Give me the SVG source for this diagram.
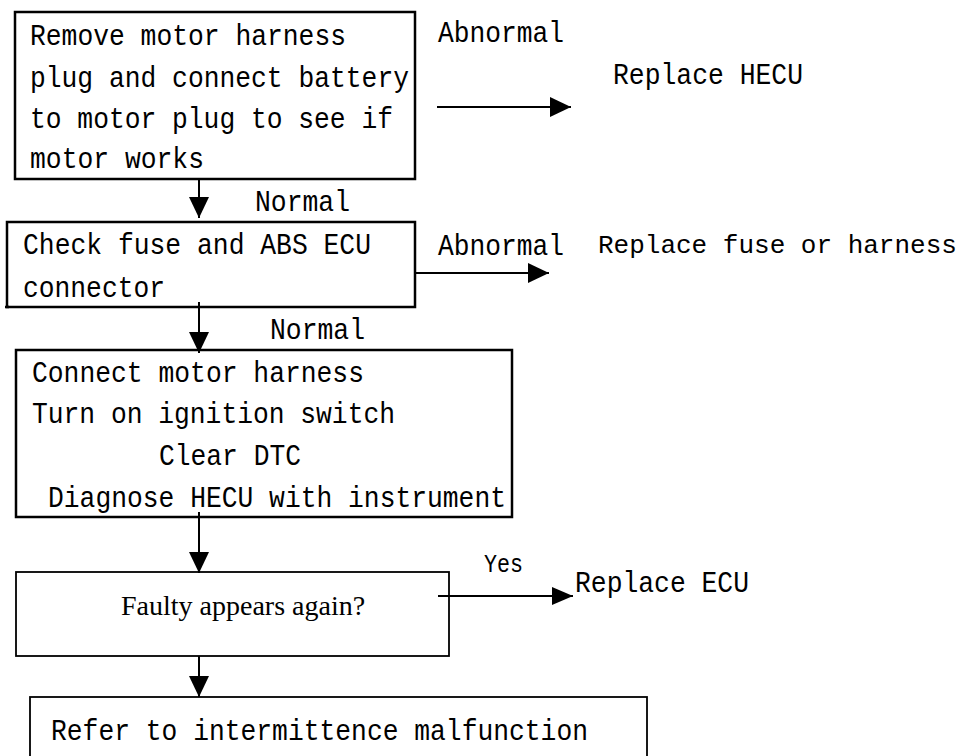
<svg xmlns="http://www.w3.org/2000/svg" width="970" height="756" viewBox="0 0 970 756">
<style>
  .box { fill: #fff; stroke: #000; stroke-width: 2.5; }
  .thin { stroke-width: 1.8; }
  .t { font-family: "Liberation Mono", "DejaVu Sans Mono", monospace; font-size: 29px; fill: #000; }
  .s { font-family: "Liberation Serif", "Times New Roman", serif; font-size: 28px; fill: #000; }
  .c { stroke: #000; stroke-width: 2; fill: none; marker-end: url(#ah); }
</style>
<defs>
  <marker id="ah" markerUnits="userSpaceOnUse" markerWidth="21" markerHeight="20" refX="21" refY="10" orient="auto" viewBox="0 0 21 20">
    <path d="M0,0 L21,10 L0,20 z" fill="#000"/>
  </marker>
  <marker id="ahs" markerUnits="userSpaceOnUse" markerWidth="21" markerHeight="18" refX="21" refY="9" orient="auto" viewBox="0 0 21 18">
    <path d="M0,0 L21,9 L0,18 z" fill="#000"/>
  </marker>
</defs>
<rect width="970" height="756" fill="#fff"/>

<g id="node-remove">
  <rect class="box" x="15" y="12" width="400" height="167"/>
  <text class="t" x="30" y="45" textLength="316" lengthAdjust="spacingAndGlyphs">Remove motor harness</text>
  <text class="t" x="30" y="87" textLength="379" lengthAdjust="spacingAndGlyphs">plug and connect battery</text>
  <text class="t" x="30" y="128" textLength="363" lengthAdjust="spacingAndGlyphs">to motor plug to see if</text>
  <text class="t" x="30" y="168" textLength="174" lengthAdjust="spacingAndGlyphs">motor works</text>
</g>

<g id="node-replace-hecu">
  <text class="t" x="613" y="84" textLength="190" lengthAdjust="spacingAndGlyphs">Replace HECU</text>
</g>

<g id="node-check-fuse">
  <rect class="box" x="7" y="222" width="408" height="85"/>
  <line x1="5" y1="307" x2="9" y2="307" stroke="#000" stroke-width="2.5"/>
  <text class="t" x="23" y="254" textLength="348" lengthAdjust="spacingAndGlyphs">Check fuse and ABS ECU</text>
  <text class="t" x="23" y="297" textLength="142" lengthAdjust="spacingAndGlyphs">connector</text>
</g>

<g id="node-replace-fuse">
  <text class="t" x="598" y="253" style="font-size:26px">Replace fuse or harness</text>
</g>

<g id="node-connect">
  <rect class="box" x="16" y="350" width="496" height="167"/>
  <text class="t" x="32" y="382" textLength="332" lengthAdjust="spacingAndGlyphs">Connect motor harness</text>
  <text class="t" x="32" y="423" textLength="363" lengthAdjust="spacingAndGlyphs">Turn on ignition switch</text>
  <text class="t" x="159" y="465" textLength="142" lengthAdjust="spacingAndGlyphs">Clear DTC</text>
  <text class="t" x="48" y="507" textLength="458" lengthAdjust="spacingAndGlyphs">Diagnose HECU with instrument</text>
</g>

<g id="node-faulty">
  <rect class="box thin" x="16" y="572" width="433" height="84"/>
  <text class="s" x="121" y="615">Faulty appears again?</text>
</g>

<g id="node-replace-ecu">
  <text class="t" x="575" y="592" textLength="174" lengthAdjust="spacingAndGlyphs">Replace ECU</text>
</g>

<g id="node-refer">
  <rect class="box thin" x="30" y="697" width="617" height="90"/>
  <text class="t" x="51" y="740" textLength="537" lengthAdjust="spacingAndGlyphs">Refer to intermittence malfunction</text>
</g>

<g id="connectors">
  <line class="c" x1="199" y1="179" x2="199" y2="218"/>
  <line class="c" x1="199" y1="302" x2="199" y2="353"/>
  <line class="c" x1="199" y1="512" x2="199" y2="573"/>
  <line class="c" x1="199" y1="656" x2="199" y2="697"/>
  <line class="c" x1="437" y1="107" x2="571" y2="107"/>
  <line class="c" x1="415" y1="273" x2="549" y2="273" stroke="#444" stroke-width="3"/>
  <line class="c" x1="438" y1="596" x2="573" y2="596" style="marker-end:url(#ahs)"/>
  <text class="t" x="438" y="42" textLength="126" lengthAdjust="spacingAndGlyphs">Abnormal</text>
  <text class="t" x="438" y="255" textLength="126" lengthAdjust="spacingAndGlyphs">Abnormal</text>
  <text class="t" x="255" y="211" textLength="95" lengthAdjust="spacingAndGlyphs">Normal</text>
  <text class="t" x="270" y="339" textLength="95" lengthAdjust="spacingAndGlyphs">Normal</text>
  <text class="t" x="484" y="572" textLength="39" lengthAdjust="spacingAndGlyphs" style="font-size:25px">Yes</text>
</g>
</svg>
